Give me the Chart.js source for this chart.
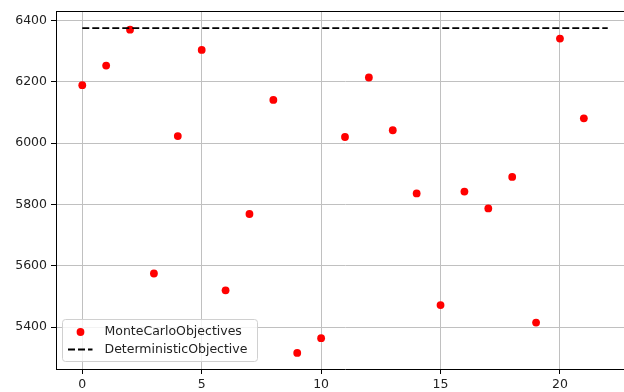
<!DOCTYPE html>
<html>
<head>
<meta charset="utf-8">
<script src="https://cdn.jsdelivr.net/npm/chart.js@4/dist/chart.umd.min.js"></script>
<style>
html,body{margin:0;padding:0;overflow:hidden;background:#fff;width:624px;height:392px;}
#wrap{width:640px;height:392px;}
</style>
</head>
<body>
<div id="wrap"><canvas id="c" width="640" height="392"></canvas></div>
<script>
const runs = [0,1,2,3,4,5,6,7,8,9,10,11,12,13,14,15,16,17,18,19,20,21];
const monteCarloObjectives = [6189,6253,6370,5575,6023,6304,5520,5769,6141,5316,5364,6020,6214,6042,5836,5472,5842,5787,5890,5415,6341,6081];
const deterministicObjective = 6375;
const deterministicX = [0, 22];
const xTicks = [0,5,10,15,20];
const yTicks = [5400,5600,5800,6000,6200,6400];
const seriesLabels = ['MonteCarloObjectives','DeterministicObjective'];

const FONT = 'DejaVu Sans';
const FS = 12.5;

const framePlugin = {
  id: 'frame',
  afterDatasetsDraw(chart) {
    const {ctx, chartArea: a} = chart;
    const t = Math.round(a.top) - 0.5;
    ctx.save();
    ctx.strokeStyle = '#000';
    ctx.lineWidth = 1;
    ctx.beginPath();
    ctx.moveTo(a.left, t);
    ctx.lineTo(a.right, t);
    ctx.stroke();
    ctx.restore();
  }
};

const legendPlugin = {
  id: 'boxLegend',
  afterDraw(chart) {
    const {ctx, chartArea: a} = chart;
    const ds = chart.data.datasets;
    const x0 = a.left + 6.5, y0 = a.bottom - 49.5, w = 195, h = 42, r = 3;
    ctx.save();
    ctx.fillStyle = 'rgba(255,255,255,0.8)';
    ctx.strokeStyle = '#d0d0d0';
    ctx.lineWidth = 1;
    ctx.beginPath();
    ctx.moveTo(x0 + r, y0);
    ctx.lineTo(x0 + w - r, y0);
    ctx.arcTo(x0 + w, y0, x0 + w, y0 + r, r);
    ctx.lineTo(x0 + w, y0 + h - r);
    ctx.arcTo(x0 + w, y0 + h, x0 + w - r, y0 + h, r);
    ctx.lineTo(x0 + r, y0 + h);
    ctx.arcTo(x0, y0 + h, x0, y0 + h - r, r);
    ctx.lineTo(x0, y0 + r);
    ctx.arcTo(x0, y0, x0 + r, y0, r);
    ctx.closePath();
    ctx.fill();
    ctx.stroke();
    const row1 = y0 + 12.5, row2 = y0 + 30;
    ctx.fillStyle = ds[0].backgroundColor;
    ctx.beginPath();
    ctx.arc(x0 + 18, row1, ds[0].pointRadius, 0, Math.PI * 2);
    ctx.fill();
    ctx.strokeStyle = ds[1].borderColor;
    ctx.lineWidth = ds[1].borderWidth;
    ctx.setLineDash(ds[1].borderDash);
    ctx.beginPath();
    ctx.moveTo(x0 + 5.5, row2);
    ctx.lineTo(x0 + 30, row2);
    ctx.stroke();
    ctx.setLineDash([]);
    ctx.fillStyle = '#222';
    ctx.font = FS + 'px "' + FONT + '"';
    ctx.textBaseline = 'middle';
    ctx.fillText(ds[0].label, x0 + 42, row1);
    ctx.fillText(ds[1].label, x0 + 42, row2);
    ctx.restore();
  }
};

new Chart(document.getElementById('c'), {
  type: 'scatter',
  data: {
    datasets: [
      {
        label: seriesLabels[0],
        data: runs.map((x, i) => ({x: x, y: monteCarloObjectives[i]})),
        backgroundColor: '#ff0000',
        borderColor: '#ff0000',
        borderWidth: 0,
        pointRadius: 3.9,
        pointHoverRadius: 3.9,
        order: 2
      },
      {
        type: 'line',
        label: seriesLabels[1],
        data: deterministicX.map(x => ({x: x, y: deterministicObjective})),
        borderColor: '#000000',
        backgroundColor: '#000000',
        borderWidth: 1.9,
        borderDash: [7, 3],
        pointRadius: 0,
        fill: false,
        order: 1
      }
    ]
  },
  options: {
    responsive: false,
    animation: false,
    events: [],
    layout: {padding: {top: 10, right: 6, left: 0, bottom: 0}},
    plugins: {legend: {display: false}, tooltip: {enabled: false}},
    scales: {
      x: {
        type: 'linear',
        min: -1.1,
        max: 23.1,
        afterBuildTicks: s => { s.ticks = xTicks.map(v => ({value: v})); },
        afterFit: s => { s.height = 23; },
        grid: {color: '#c0c0c0', lineWidth: 1, tickLength: 5, tickColor: '#000', drawTicks: true},
        border: {color: '#000', width: 1},
        ticks: {color: '#222', padding: 3, maxRotation: 0, font: {family: FONT, size: FS}, callback: v => String(v)}
      },
      y: {
        type: 'linear',
        min: 5263.6,
        max: 6429.2,
        afterBuildTicks: s => { s.ticks = yTicks.map(v => ({value: v})); },
        afterFit: s => { s.width = 56; },
        grid: {color: '#c0c0c0', lineWidth: 1, tickLength: 5, tickColor: '#000'},
        border: {color: '#000', width: 1},
        ticks: {color: '#222', padding: 4, font: {family: FONT, size: FS}, callback: v => String(v)}
      }
    }
  },
  plugins: [framePlugin, legendPlugin]
});
</script>
</body>
</html>
